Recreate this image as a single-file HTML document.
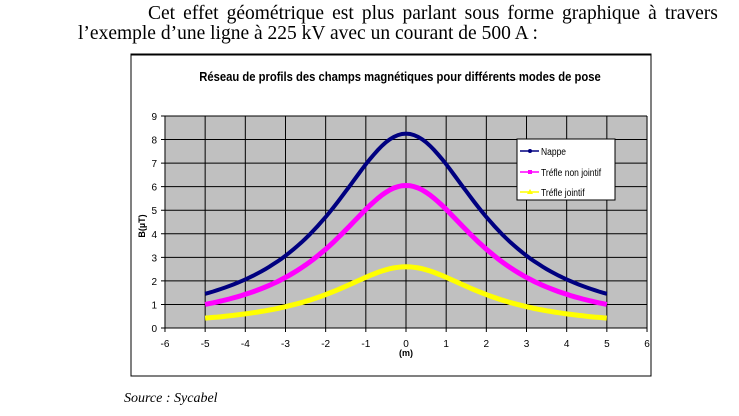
<!DOCTYPE html>
<html><head><meta charset="utf-8"><style>
body{margin:0;background:#fff;width:739px;height:416px;overflow:hidden;position:relative;font-family:"Liberation Serif",serif}
.t{position:absolute;font-size:19.5px;line-height:20px;color:#000;white-space:nowrap}
</style></head><body>
<div class="t" style="left:148px;top:4px;word-spacing:3.2px">Cet effet géométrique est plus parlant sous forme graphique à travers</div>
<div class="t" style="left:78px;top:24px;">l’exemple d’une ligne à 225 kV avec un courant de 500 A :</div>
<div class="t" style="left:124px;top:389px;font-size:14px;font-style:italic">Source : Sycabel</div>
<svg id="s" width="739" height="416" style="position:absolute;left:0;top:0" font-family="Liberation Sans, sans-serif">
<rect x="131" y="54" width="520" height="322" fill="#fff" stroke="#000" stroke-width="1"/>
<line x1="131" y1="54.5" x2="651" y2="54.5" stroke="#000" stroke-width="2"/>
<text x="400" y="81" font-size="12.5" font-weight="bold" text-anchor="middle" transform="translate(400 0) scale(0.9 1) translate(-400 0)">Réseau de profils des champs magnétiques pour différents modes de pose</text>
<rect x="165" y="116" width="482" height="212" fill="#c0c0c0"/>
<g id="grid" stroke="#000" stroke-width="1"></g>
<g id="lab" font-size="10" fill="#000"></g>
<text x="406" y="356" font-size="9" font-weight="bold" text-anchor="middle">(m)</text>
<text x="145" y="226" font-size="9" font-weight="bold" text-anchor="middle" transform="rotate(-90 145 226)">B(µT)</text>
<path id="c1" fill="none" stroke="#000080" stroke-width="4"/>
<path id="c2" fill="none" stroke="#ff00ff" stroke-width="5"/>
<path id="c3" fill="none" stroke="#ffff00" stroke-width="5"/>
<rect x="517" y="139" width="98" height="61" fill="#fff" stroke="#000"/>
<line x1="520" y1="151" x2="539" y2="151" stroke="#000080" stroke-width="1.5"/><circle cx="530" cy="151" r="2" fill="#000080"/>
<line x1="520" y1="172" x2="539" y2="172" stroke="#ff00ff" stroke-width="1.5"/><rect x="528" y="170" width="4" height="4" fill="#ff00ff"/>
<line x1="520" y1="192" x2="539" y2="192" stroke="#ffff00" stroke-width="1.5"/><path d="M527 194 L530 189 L533 194Z" fill="#ffff00"/>
<g font-size="10" fill="#000" transform="translate(541 0) scale(0.85 1)">
<text x="0" y="155">Nappe</text><text x="0" y="176">Tréfle non jointif</text><text x="0" y="196">Tréfle jointif</text></g>
</svg>
<script>
var g=document.getElementById('grid'),l=document.getElementById('lab'),ns='http://www.w3.org/2000/svg';
function X(x){return 406+x*40.17}function Y(y){return 328-y*23.56}
function el(p,t,a){var e=document.createElementNS(ns,t);for(var k in a)e.setAttribute(k,a[k]);p.appendChild(e);return e}
for(var i=-6;i<=6;i++){el(g,'line',{x1:X(i),y1:116,x2:X(i),y2:332});var t=el(l,'text',{x:X(i),y:347,'text-anchor':'middle'});t.textContent=i;}
for(var j=0;j<=9;j++){el(g,'line',{x1:161,y1:Y(j),x2:647,y2:Y(j)});var t=el(l,'text',{x:157,y:Y(j)+4,'text-anchor':'end'});t.textContent=j;}
el(g,'line',{x1:165,y1:328,x2:647,y2:328});
function c(id,a,b2){var d='';for(var x=-5;x<=5.001;x+=0.1){d+=(d?'L':'M')+X(x).toFixed(1)+' '+Y(a/(1+x*x/b2)).toFixed(1);}document.getElementById(id).setAttribute('d',d)}
c('c1',8.25,5.33);c('c2',6.05,4.95);c('c3',2.6,4.8);
</script>
</body></html>
